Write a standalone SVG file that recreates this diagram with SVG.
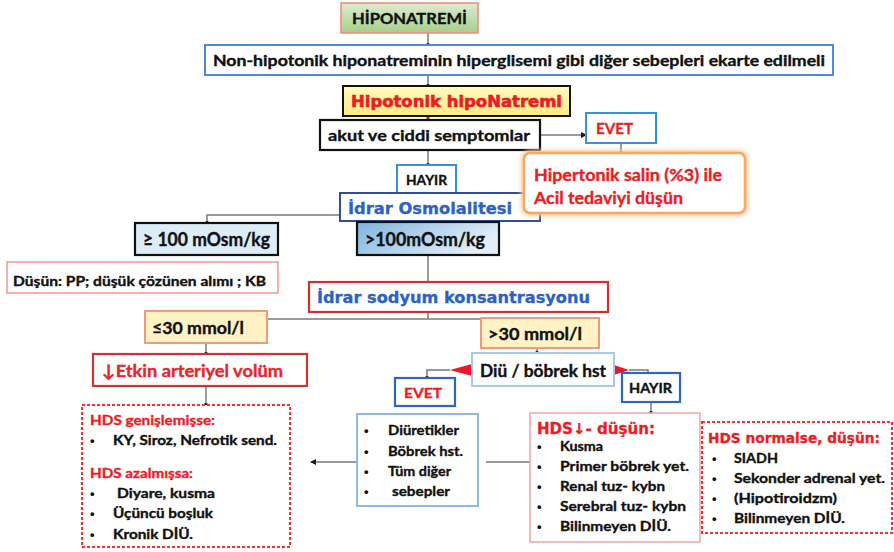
<svg xmlns="http://www.w3.org/2000/svg" width="894" height="552" viewBox="0 0 894 552">
  <defs>
    <linearGradient id="gGreen" x1="0" y1="0" x2="0" y2="1">
      <stop offset="0" stop-color="#dcecd0"/>
      <stop offset="1" stop-color="#a6cf8a"/>
    </linearGradient>
    <linearGradient id="gYellow" x1="0" y1="0" x2="0" y2="1">
      <stop offset="0" stop-color="#fffbc0"/>
      <stop offset="1" stop-color="#ffeb80"/>
    </linearGradient>
    <linearGradient id="gBlue" x1="0" y1="0" x2="1" y2="0.4">
      <stop offset="0" stop-color="#7fb3df"/>
      <stop offset="1" stop-color="#e2eff9"/>
    </linearGradient>
    <filter id="glow" x="-10%" y="-20%" width="120%" height="140%">
      <feGaussianBlur stdDeviation="2"/>
    </filter>
    <marker id="dot" markerWidth="5" markerHeight="5" refX="2.5" refY="2.5" markerUnits="userSpaceOnUse">
      <circle cx="2.5" cy="2.5" r="2" fill="#1a1a1a"/>
    </marker>
    <marker id="arr" markerWidth="6" markerHeight="6" refX="5" refY="3" orient="auto" markerUnits="userSpaceOnUse">
      <path d="M0,0 L6,3 L0,6 z" fill="#1a1a1a"/>
    </marker>
  </defs>
  <style>
    .c { font-family: Lato, "Open Sans", "Liberation Sans", sans-serif; font-weight: bold; fill: #111; stroke: #111; stroke-width: 0.35; }
    .v { font-family: "DejaVu Sans", Verdana, sans-serif; font-weight: bold; stroke-width: 0.3; }
    .red { fill: #ec1c24; stroke: #ec1c24; }
    .blue { fill: #2d62c2; stroke: #2d62c2; }
    .box { fill: #fff; }
    .ln { fill: none; stroke: #7a7a7a; stroke-width: 1.5; }
    .bul { font-family: "Liberation Sans", sans-serif; font-weight: bold; fill: #111; font-size: 13px; }
  </style>

  <rect width="894" height="552" fill="#fff"/>

  <!-- connectors -->
  <g id="connectors">
    <path class="ln" d="M428,33 V45" marker-end="url(#dot)"/>
    <path class="ln" d="M428,75 V86" marker-end="url(#dot)"/>
    <path d="M428,116 V120" stroke="#d02020" stroke-width="3" fill="none"/>
    <path class="ln" d="M428,150 V165" marker-end="url(#dot)"/>
    <path class="ln" d="M540,135 H586" stroke="#444" marker-end="url(#arr)"/>
    <path class="ln" d="M621,143 V153" marker-end="url(#dot)"/>
    <path class="ln" d="M340,215 H207 V223" marker-end="url(#dot)"/>
    <path class="ln" d="M428,255 V282"/>
    <path class="ln" d="M428,312 V319"/>
    <path class="ln" d="M267,319 H482"/>
    <path d="M481,326 V342" stroke="#333" stroke-width="2" fill="none"/>
    <path class="ln" d="M206,343 V354" marker-end="url(#dot)"/>
    <path class="ln" d="M206,386 V405" marker-end="url(#dot)"/>
    <path class="ln" d="M537,348 V353" marker-end="url(#dot)"/>
    <polygon points="472,364 472,376 450,370" fill="#e8192c"/>
    <path class="ln" d="M450,370 H427 V378" marker-end="url(#dot)"/>
    <polygon points="614,365 614,375 629,370" fill="#e8192c"/>
    <path class="ln" d="M629,370 H648 V373"/>
    <path class="ln" d="M651,402 V413" marker-end="url(#dot)"/>
    <path class="ln" d="M357,462 H311" marker-end="url(#arr)"/>
    <path class="ln" d="M486,462 H530"/>
  </g>

  <g id="n-hiponatremi">
    <rect x="341" y="3" width="137" height="30" fill="url(#gGreen)" stroke="#ef8a7c" stroke-width="1.5"/>
    <text class="c" x="352" y="24" font-size="15" textLength="115" lengthAdjust="spacingAndGlyphs">HİPONATREMİ</text>
  </g>

  <g id="n-nonhipotonik">
    <rect class="box" x="205" y="45" width="628" height="30" stroke="#4f8ad6" stroke-width="2"/>
    <text class="c" x="213" y="65.5" font-size="15" textLength="612" lengthAdjust="spacingAndGlyphs">Non-hipotonik hiponatreminin hiperglisemi gibi diğer sebepleri ekarte edilmeli</text>
  </g>

  <g id="n-hipotonik">
    <rect x="343" y="86" width="227" height="30" fill="url(#gYellow)" stroke="#111" stroke-width="2"/>
    <text class="v red" x="351" y="106.5" font-size="15" textLength="211" lengthAdjust="spacingAndGlyphs" style="stroke-width:0.6">Hipotonik  hipoNatremi</text>
  </g>

  <g id="n-akut">
    <rect class="box" x="320" y="120" width="220" height="30" stroke="#111" stroke-width="2.2"/>
    <text class="c" x="328" y="141" font-size="16" textLength="202" lengthAdjust="spacingAndGlyphs">akut ve ciddi semptomlar</text>
  </g>

  <g id="n-evet1">
    <rect class="box" x="586" y="113" width="70" height="30" stroke="#3d8fdc" stroke-width="2"/>
    <text class="c red" x="596" y="134" font-size="16" textLength="37" lengthAdjust="spacingAndGlyphs">EVET</text>
  </g>

  <g id="n-hayir1">
    <rect class="box" x="397" y="165" width="59" height="28" stroke="#3a8ede" stroke-width="2"/>
    <text class="c" x="406" y="184.5" font-size="12.5" textLength="41" lengthAdjust="spacingAndGlyphs">HAYIR</text>
  </g>

  <g id="n-osmolalite">
    <rect class="box" x="340" y="193" width="200" height="28" stroke="#2f4f90" stroke-width="2"/>
    <text class="v blue" x="348" y="213.5" font-size="15" textLength="164" lengthAdjust="spacingAndGlyphs">İdrar  Osmolalitesi</text>
  </g>

  <g id="n-hipertonik">
    <rect x="524" y="153" width="221" height="60" rx="6" fill="none" stroke="#fbc99a" stroke-width="6" filter="url(#glow)"/>
    <rect class="box" x="524" y="153" width="221" height="60" rx="6" stroke="#f5a962" stroke-width="2.5"/>
    <text class="c red" x="534" y="181" font-size="17" textLength="188" lengthAdjust="spacingAndGlyphs">Hipertonik salin (%3) ile</text>
    <text class="c red" x="534" y="204" font-size="17" textLength="149" lengthAdjust="spacingAndGlyphs">Acil tedaviyi düşün</text>
  </g>

  <g id="n-osm-dusuk">
    <rect x="135" y="223" width="143" height="32" fill="#dcedf8" stroke="#111" stroke-width="2.2"/>
    <text class="c" x="143" y="246" font-size="18" textLength="127" lengthAdjust="spacingAndGlyphs">≥ 100 mOsm/kg</text>
  </g>

  <g id="n-osm-yuksek">
    <rect x="357" y="222" width="142" height="33" fill="url(#gBlue)" stroke="#111" stroke-width="2.2"/>
    <text class="c" x="365" y="246" font-size="18" textLength="120" lengthAdjust="spacingAndGlyphs">&gt;100mOsm/kg</text>
  </g>

  <g id="n-dusun">
    <rect class="box" x="7" y="262" width="271" height="31" stroke="#f39595" stroke-width="1.5"/>
    <text class="c" x="13" y="286" font-size="13" textLength="253" lengthAdjust="spacingAndGlyphs">Düşün: PP; düşük çözünen alımı ; KB</text>
  </g>

  <g id="n-sodyum">
    <rect class="box" x="309" y="282" width="299" height="30" stroke="#d22f2f" stroke-width="2.2"/>
    <text class="v blue" x="317" y="302.5" font-size="15" textLength="273" lengthAdjust="spacingAndGlyphs">İdrar  sodyum  konsantrasyonu</text>
  </g>

  <g id="n-na-dusuk">
    <rect x="145" y="311" width="122" height="32" fill="#fff2c4" stroke="#f19a7c" stroke-width="2"/>
    <text class="c" x="152" y="334" font-size="17" textLength="92" lengthAdjust="spacingAndGlyphs">≤30 mmol/l</text>
  </g>

  <g id="n-na-yuksek">
    <rect x="481" y="318" width="118" height="30" fill="#fff2c4" stroke="#f19a7c" stroke-width="2"/>
    <text class="c" x="488" y="339.5" font-size="17" textLength="94" lengthAdjust="spacingAndGlyphs">&gt;30 mmol/l</text>
  </g>

  <g id="n-etkin">
    <rect class="box" x="93" y="354" width="214" height="32" stroke="#d33131" stroke-width="2.2"/>
    <text class="c red" x="102" y="377" font-size="17" textLength="181" lengthAdjust="spacingAndGlyphs" style="fill:#e3262b;stroke:#e3262b">↓Etkin arteriyel volüm</text>
  </g>

  <g id="n-diu">
    <rect class="box" x="472" y="353" width="142" height="33" stroke="#a9c8ea" stroke-width="2"/>
    <text class="c" x="480" y="376.5" font-size="16.5" textLength="126" lengthAdjust="spacingAndGlyphs">Diü / böbrek hst</text>
  </g>

  <g id="n-evet2">
    <rect class="box" x="395" y="378" width="60" height="28" stroke="#2e67c0" stroke-width="2.2"/>
    <text class="c red" x="404" y="397.5" font-size="14" textLength="38" lengthAdjust="spacingAndGlyphs">EVET</text>
  </g>

  <g id="n-hayir2">
    <rect class="box" x="622" y="373" width="58" height="29" stroke="#2e67c0" stroke-width="2.2"/>
    <text class="c" x="629" y="392.5" font-size="12.5" textLength="43" lengthAdjust="spacingAndGlyphs">HAYIR</text>
  </g>

  <g id="n-hds-etkin">
    <rect class="box" x="82" y="405" width="208" height="142" stroke="#ff2d2d" stroke-width="2" stroke-dasharray="3,2"/>
    <text class="c red" x="90" y="425" font-size="14" textLength="125" lengthAdjust="spacingAndGlyphs">HDS genişlemişse:</text>
    <text class="bul" x="90" y="445">•</text>
    <text class="c" x="113" y="445" font-size="13" textLength="164" lengthAdjust="spacingAndGlyphs">KY, Siroz, Nefrotik send.</text>
    <text class="c red" x="90" y="478" font-size="14" textLength="103" lengthAdjust="spacingAndGlyphs">HDS azalmışsa:</text>
    <text class="bul" x="90" y="498">•</text>
    <text class="c" x="117" y="498" font-size="13" textLength="98" lengthAdjust="spacingAndGlyphs">Diyare, kusma</text>
    <text class="bul" x="90" y="518">•</text>
    <text class="c" x="113" y="518" font-size="13" textLength="100" lengthAdjust="spacingAndGlyphs">Üçüncü boşluk</text>
    <text class="bul" x="90" y="539">•</text>
    <text class="c" x="113" y="539" font-size="13" textLength="80" lengthAdjust="spacingAndGlyphs">Kronik DİÜ.</text>
  </g>

  <g id="n-diuretik">
    <rect class="box" x="357" y="414" width="121" height="92" stroke="#8dbbe8" stroke-width="2"/>
    <text class="bul" x="364" y="435">•</text>
    <text class="c" x="388" y="435" font-size="13.5" textLength="71" lengthAdjust="spacingAndGlyphs">Diüretikler</text>
    <text class="bul" x="364" y="456">•</text>
    <text class="c" x="388" y="456" font-size="13.5" textLength="75" lengthAdjust="spacingAndGlyphs">Böbrek hst.</text>
    <text class="bul" x="364" y="476">•</text>
    <text class="c" x="388" y="476" font-size="13.5" textLength="63" lengthAdjust="spacingAndGlyphs">Tüm diğer</text>
    <text class="bul" x="364" y="496">•</text>
    <text class="c" x="392" y="496" font-size="13.5" textLength="58" lengthAdjust="spacingAndGlyphs">sebepler</text>
  </g>

  <g id="n-hds-azalmis">
    <rect class="box" x="530" y="413" width="170" height="129" stroke="#f5a3a3" stroke-width="1.5"/>
    <text class="v red" x="537" y="434" font-size="15" textLength="118" lengthAdjust="spacingAndGlyphs">HDS↓- düşün:</text>
    <text class="bul" x="537" y="451">•</text>
    <text class="c" x="560" y="451" font-size="13.5" textLength="43" lengthAdjust="spacingAndGlyphs">Kusma</text>
    <text class="bul" x="537" y="471">•</text>
    <text class="c" x="560" y="471" font-size="13.5" textLength="129" lengthAdjust="spacingAndGlyphs">Primer böbrek yet.</text>
    <text class="bul" x="537" y="491">•</text>
    <text class="c" x="560" y="491" font-size="13.5" textLength="105" lengthAdjust="spacingAndGlyphs">Renal tuz- kybn</text>
    <text class="bul" x="537" y="511">•</text>
    <text class="c" x="560" y="511" font-size="13.5" textLength="126" lengthAdjust="spacingAndGlyphs">Serebral tuz- kybn</text>
    <text class="bul" x="537" y="531">•</text>
    <text class="c" x="560" y="531" font-size="13.5" textLength="111" lengthAdjust="spacingAndGlyphs">Bilinmeyen DİÜ.</text>
  </g>

  <g id="n-hds-normal">
    <rect class="box" x="702" y="422" width="190" height="111" stroke="#ff2d2d" stroke-width="2" stroke-dasharray="3,2"/>
    <text class="v red" x="708" y="443" font-size="14.5" textLength="172" lengthAdjust="spacingAndGlyphs">HDS normalse, düşün:</text>
    <text class="bul" x="712" y="463">•</text>
    <text class="c" x="734" y="463" font-size="13.5" textLength="44" lengthAdjust="spacingAndGlyphs">SIADH</text>
    <text class="bul" x="712" y="483">•</text>
    <text class="c" x="734" y="483" font-size="13.5" textLength="151" lengthAdjust="spacingAndGlyphs">Sekonder adrenal yet.</text>
    <text class="bul" x="712" y="503">•</text>
    <text class="c" x="734" y="503" font-size="13.5" textLength="103" lengthAdjust="spacingAndGlyphs">(Hipotiroidzm)</text>
    <text class="bul" x="712" y="523">•</text>
    <text class="c" x="734" y="523" font-size="13.5" textLength="111" lengthAdjust="spacingAndGlyphs">Bilinmeyen DİÜ.</text>
  </g>
</svg>
